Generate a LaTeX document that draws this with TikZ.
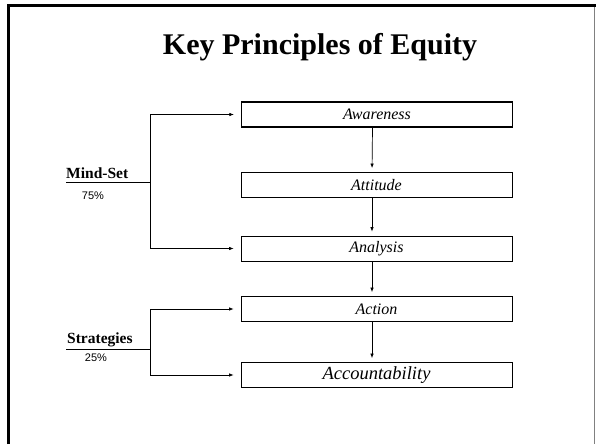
\documentclass[tikz,border=0pt]{standalone}
\usepackage{fontspec}
\setmainfont{Liberation Serif}
\setsansfont{Liberation Sans}
\usetikzlibrary{arrows.meta,positioning}

\tikzset{
  stepbox/.style={draw, line width=0.8pt, minimum width=271pt, minimum height=25pt,
    inner sep=0pt, font=\itshape\fontsize{16}{18}\selectfont},
  grouplabel/.style={anchor=base west, inner sep=0pt, font=\bfseries\fontsize{15.5}{18}\selectfont},
  share/.style={inner sep=0pt, font=\sffamily\fontsize{11}{13}\selectfont},
  link/.style={->, line width=0.7pt, shorten >=4pt},
}

\begin{document}
\begin{tikzpicture}[x=1pt, y=-1pt, >={Latex[length=4.5pt,width=3.5pt]}]
  \useasboundingbox (0,0) rectangle (596,444);

  % Frame
  \draw[line width=2.5pt] (8.5,444) -- (8.5,5.5) -- (596,5.5);
  \draw[gray, line width=1pt] (594,7) -- (594,444);

  % Title
  \node[anchor=base, inner sep=0pt, font=\bfseries\fontsize{30}{34}\selectfont] (title) at (320,54) {Key Principles of Equity};

  % Steps
  \node[stepbox, line width=1.3pt] (aware) at (377,114.5) {Awareness};
  \node[stepbox] (attit) at (376.5,185) {Attitude};
  \node[stepbox] (analy) at (376.5,248.5) {Analysis};
  \node[stepbox] (action) at (376.5,309) {Action};
  \node[stepbox, font=\itshape\fontsize{18.5}{21}\selectfont] (account) at (376.5,375) {Accountability};

  % Down arrows
  \draw[link] ([xshift=-4.5pt]aware.south) -- ([xshift=-4.5pt]attit.north);
  \draw[link] ([xshift=-4.5pt]attit.south) -- ([xshift=-4.5pt]analy.north);
  \draw[link] ([xshift=-4.5pt]analy.south) -- ([xshift=-4.5pt]action.north);
  \draw[link] ([xshift=-4.5pt]action.south) -- ([xshift=-4.5pt]account.north);

  % Mind-Set branch
  \node[grouplabel] (mind) at (66,178) {Mind-Set};
  \node[share] (mindpc) at (93,196) {75\%};
  \coordinate (mindl) at (66,182);
  \coordinate (mindj) at (150,182);
  \draw[line width=0.8pt] (mindl) -- (mindj);
  \draw[link, shorten >=7pt] (mindj) |- (aware.west);
  \draw[link, shorten >=7pt] (mindj) |- (analy.west);

  % Strategies branch
  \node[grouplabel] (strat) at (67,343) {Strategies};
  \node[share] (stratpc) at (96,358) {25\%};
  \coordinate (stratl) at (66,349);
  \coordinate (stratj) at (150,349);
  \draw[line width=0.8pt] (stratl) -- (stratj);
  \draw[link, shorten >=7pt] (stratj) |- (action.west);
  \draw[link, shorten >=7pt] (stratj) |- (account.west);
\end{tikzpicture}
\end{document}
